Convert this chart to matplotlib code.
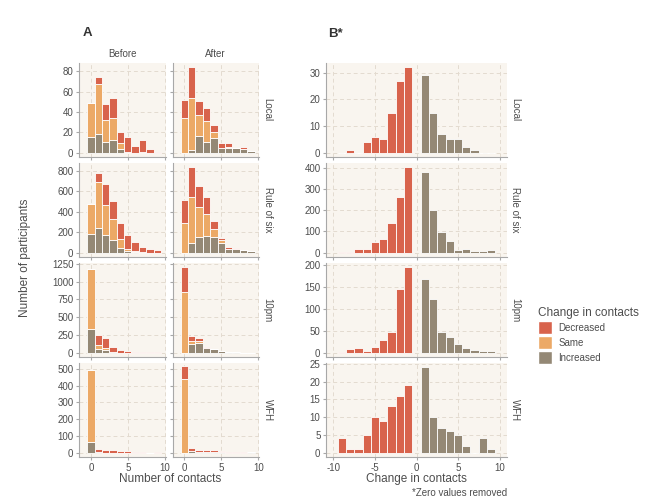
import numpy as np
import matplotlib.pyplot as plt
from matplotlib.patches import Patch

plt.rcParams["font.family"] = ["Liberation Sans", "DejaVu Sans"]
plt.rcParams["axes.unicode_minus"] = False

# ---------------------------------------------------------------------------
# Data
# ---------------------------------------------------------------------------
ROWS = ["Local", "Rule of six", "10pm", "WFH"]
contacts = np.arange(10)            # number of contacts, 0..9
change = np.array([-9, -8, -7, -6, -5, -4, -3, -2, -1, 1, 2, 3, 4, 5, 6, 7, 8, 9])

# Panel A: stacked segment heights (increased / same / decreased)
local_before_inc = [15, 18, 11, 13, 4, 0, 0, 0, 0, 0]
local_before_same = [34, 50, 21, 21, 6, 1, 0, 1, 0, 0]
local_before_dec = [0, 6, 16, 20, 10, 14, 7, 12, 4, 1]
local_after_inc = [0, 3, 16, 11, 14, 5, 5, 5, 4, 2]
local_after_same = [34, 51, 21, 20, 6, 0, 1, 0, 0, 0]
local_after_dec = [18, 30, 14, 13, 7, 5, 4, 0, 2, 0]

six_before_inc = [185, 245, 175, 120, 50, 15, 5, 0, 0, 0]
six_before_same = [295, 445, 295, 210, 85, 25, 10, 3, 0, 0]
six_before_dec = [0, 85, 200, 175, 160, 135, 90, 52, 35, 25]
six_after_inc = [0, 90, 150, 165, 150, 95, 40, 35, 25, 20]
six_after_same = [290, 450, 300, 215, 80, 25, 0, 0, 0, 0]
six_after_dec = [225, 295, 200, 160, 80, 25, 15, 10, 0, 0]

ten_before_inc = [330, 57, 33, 5, 0, 0, 0, 0, 0, 0]
ten_before_same = [850, 47, 33, 5, 0, 0, 0, 0, 0, 0]
ten_before_dec = [0, 141, 142, 65, 45, 30, 12, 10, 5, 15]
ten_after_inc = [0, 118, 140, 65, 50, 25, 15, 8, 3, 2]
ten_after_same = [850, 42, 25, 0, 0, 0, 0, 0, 0, 0]
ten_after_dec = [360, 71, 45, 10, 0, 0, 0, 0, 0, 0]

wfh_before_inc = [64, 4, 0, 0, 0, 0, 0, 0, 0, 0]
wfh_before_same = [430, 0, 0, 0, 0, 0, 0, 0, 0, 0]
wfh_before_dec = [0, 20, 14, 14, 8, 12, 4, 4, 1, 3]
wfh_after_inc = [0, 12, 6, 6, 5, 3, 1, 1, 1, 2]
wfh_after_same = [438, 0, 0, 0, 0, 0, 0, 0, 0, 0]
wfh_after_dec = [80, 16, 12, 8, 9, 5, 2, 1, 2, 0]

# Panel B: counts of change in contacts (zero removed)
local_change = [0, 1, 0, 4, 6, 5, 15, 27, 32, 29, 15, 7, 5, 5, 2, 1, 0, 0]
six_change = [5, 5, 17, 17, 50, 65, 138, 260, 402, 380, 202, 97, 53, 15, 17, 8, 8, 12]
ten_change = [1, 8, 11, 5, 13, 30, 47, 146, 195, 169, 123, 48, 36, 19, 10, 6, 5, 3]
wfh_change = [4, 1, 1, 5, 10, 9, 13, 16, 19, 24, 10, 7, 6, 5, 2, 0, 4, 1]

A_DATA = [
    ((local_before_inc, local_before_same, local_before_dec),
     (local_after_inc, local_after_same, local_after_dec)),
    ((six_before_inc, six_before_same, six_before_dec),
     (six_after_inc, six_after_same, six_after_dec)),
    ((ten_before_inc, ten_before_same, ten_before_dec),
     (ten_after_inc, ten_after_same, ten_after_dec)),
    ((wfh_before_inc, wfh_before_same, wfh_before_dec),
     (wfh_after_inc, wfh_after_same, wfh_after_dec)),
]
B_DATA = [local_change, six_change, ten_change, wfh_change]

A_YTICKS = [[0, 20, 40, 60, 80], [0, 200, 400, 600, 800],
            [0, 250, 500, 750, 1000, 1250], [0, 100, 200, 300, 400, 500]]
A_YLIM = [(-4.2, 88.2), (-42, 877), (-60, 1262), (-25.5, 535)]
B_YTICKS = [[0, 10, 20, 30], [0, 100, 200, 300, 400],
            [0, 50, 100, 150, 200], [0, 5, 10, 15, 20, 25]]
B_YLIM = [(-1.6, 33.6), (-20, 422), (-9.75, 204.8), (-1.2, 25.2)]

# ---------------------------------------------------------------------------
# Style
# ---------------------------------------------------------------------------
C_DEC = "#d8634c"
C_SAME = "#eca966"
C_INC = "#948875"
PANEL_BG = "#f9f5ef"
GRID = "#e3dbd0"
AXIS = "#a8a8a8"
TXT = "#4d4d4d"

W, H = 652, 504
fig = plt.figure(figsize=(W / 100, H / 100), dpi=100)


def px_axes(x0, y0, x1, y1):
    return fig.add_axes([x0 / W, 1 - y1 / H, (x1 - x0) / W, (y1 - y0) / H])


def style(ax, xticks, yticks, show_x, show_y):
    ax.set_facecolor(PANEL_BG)
    for s in ("top", "right"):
        ax.spines[s].set_visible(False)
    for s in ("left", "bottom"):
        ax.spines[s].set_color(AXIS)
        ax.spines[s].set_linewidth(0.8)
    ax.set_xticks(xticks)
    ax.set_yticks(yticks)
    ax.grid(True, color=GRID, linestyle=(0, (4, 3)), linewidth=0.7)
    ax.set_axisbelow(True)
    ax.tick_params(colors=AXIS, labelcolor=TXT, labelsize=7, length=2.5, width=0.8, pad=1.5)
    if not show_x:
        ax.tick_params(labelbottom=False)
    if not show_y:
        ax.tick_params(labelleft=False)


ROW_Y = [(63, 157), (163, 257), (263, 357), (363, 457)]
A_COLS = [(79, 165.5), (172.5, 259)]
B_COL = (326, 507)

for r, (y0, y1) in enumerate(ROW_Y):
    last = r == len(ROW_Y) - 1
    for c, (x0, x1) in enumerate(A_COLS):
        ax = px_axes(x0, y0, x1, y1)
        inc, same, dec = (np.array(v) for v in A_DATA[r][c])
        kw = dict(width=1.0, edgecolor="white", linewidth=0.6)
        ax.bar(contacts, inc, color=C_INC, **kw)
        ax.bar(contacts, same, bottom=inc, color=C_SAME, **kw)
        ax.bar(contacts, dec, bottom=inc + same, color=C_DEC, **kw)
        ax.set_xlim(-1.6, 10.1)
        ax.set_ylim(*A_YLIM[r])
        style(ax, [0, 5, 10], A_YTICKS[r], last, c == 0)
        if r == 0:
            ax.set_title(["Before", "After"][c], fontsize=7, color=TXT, pad=4)
        if c == 1:
            ax.text(1.10, 0.5, ROWS[r], transform=ax.transAxes, rotation=-90,
                    ha="center", va="center", fontsize=7, color=TXT)

    ax = px_axes(B_COL[0], y0, B_COL[1], y1)
    vals = np.array(B_DATA[r])
    colors = [C_DEC if v < 0 else C_INC for v in change]
    ax.bar(change, vals, width=1.0, color=colors, edgecolor="white", linewidth=0.6)
    ax.set_xlim(-10.9, 10.9)
    ax.set_ylim(*B_YLIM[r])
    style(ax, [-10, -5, 0, 5, 10], B_YTICKS[r], last, True)
    ax.text(1.045, 0.5, ROWS[r], transform=ax.transAxes, rotation=-90,
            ha="center", va="center", fontsize=7, color=TXT)

# Labels
fig.text(83 / W, 1 - 33 / H, "A", fontsize=9.5, fontweight="bold", color="#333333",
         va="center")
fig.text(328 / W, 1 - 34 / H, "B*", fontsize=9.5, fontweight="bold", color="#333333",
         va="center")
fig.text(25 / W, 1 - 258 / H, "Number of participants", rotation=90, fontsize=8.5,
         color=TXT, ha="center", va="center")
fig.text(170 / W, 1 - 479 / H, "Number of contacts", fontsize=8.5, color=TXT,
         ha="center", va="center")
fig.text(416 / W, 1 - 479 / H, "Change in contacts", fontsize=8.5, color=TXT,
         ha="center", va="center")
fig.text(507 / W, 1 - 493 / H, "*Zero values removed", fontsize=7, color=TXT,
         ha="right", va="center")

handles = [Patch(facecolor=C_DEC, edgecolor="white", label="Decreased"),
           Patch(facecolor=C_SAME, edgecolor="white", label="Same"),
           Patch(facecolor=C_INC, edgecolor="white", label="Increased")]
leg = fig.legend(handles=handles, title="Change in contacts", loc="upper left",
                 bbox_to_anchor=(531 / W, 1 - 300 / H), frameon=False, fontsize=7,
                 title_fontsize=8.5, handlelength=1.5, handleheight=1.6,
                 labelspacing=0.25, handletextpad=0.6, borderpad=0.2)
leg._legend_box.align = "left"
leg.get_title().set_color(TXT)
for t in leg.get_texts():
    t.set_color(TXT)

fig.savefig("out.png", dpi=100, facecolor="white")
